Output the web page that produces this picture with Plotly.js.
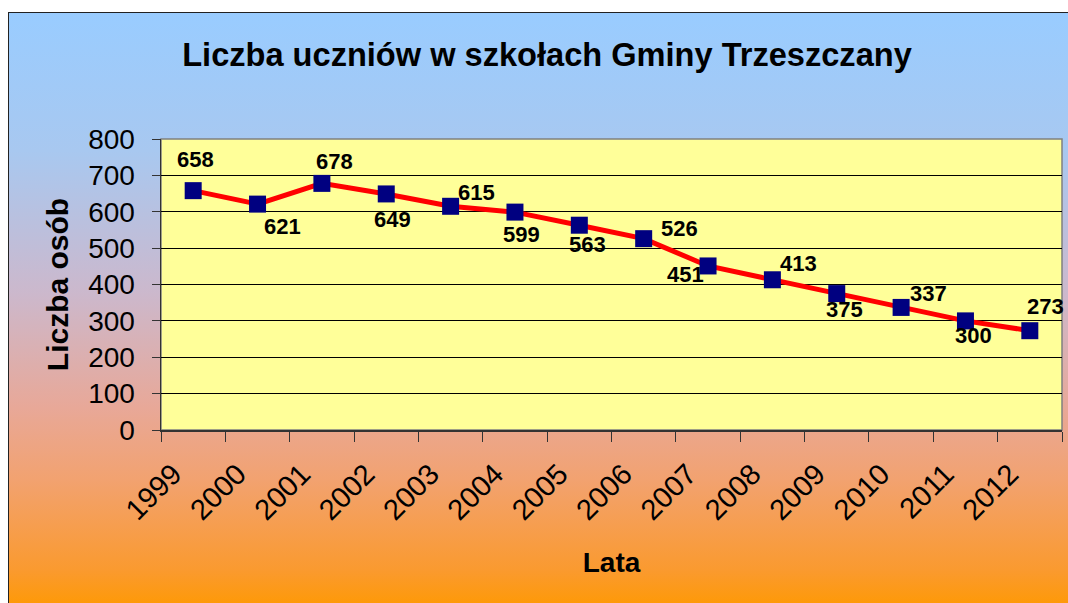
<!DOCTYPE html>
<html>
<head>
<meta charset="utf-8">
<script src="https://cdn.plot.ly/plotly-3.0.1.min.js"></script>
<style>
  html, body { margin: 0; padding: 0; background: #ffffff; width: 1068px; height: 603px; overflow: hidden; }
  #bg {
    position: absolute; left: 8px; top: 12px; width: 1080px; height: 600px;
    border: 1px solid #222; box-sizing: border-box;
    background: linear-gradient(to bottom, #99CCFF 0%, #A8C8F0 23%, #CCB8CC 47%, #E8A898 66%, #F2A270 78%, #FA9A30 93%, #FF9900 100%);
  }
  #chart { position: absolute; left: 0; top: 0; width: 1068px; height: 603px; }
</style>
</head>
<body>
<div id="bg"></div>
<div id="chart"></div>
<script>
const years = ["1999","2000","2001","2002","2003","2004","2005","2006","2007","2008","2009","2010","2011","2012"];
const students = [658, 621, 678, 649, 615, 599, 563, 526, 451, 413, 375, 337, 300, 273];
const yTicks = [0, 100, 200, 300, 400, 500, 600, 700, 800];

// label offsets (pixels) relative to each point — styling only
const labelDx = [2, 25, 13, 6, 26, 7, 8, 36, -23, 26, 8, 27, 8, 16];
const labelDy = [31, -22, 22, -26, 14, -22, -19, 10, -9, 16, -16, 14, -15, 24];

const FONT = 'Liberation Sans, Arial, sans-serif';

const trace = {
  type: 'scatter',
  mode: 'lines+markers',
  x: years,
  y: students,
  line: { color: '#FF0000', width: 5 },
  marker: { symbol: 'square', size: 17, color: '#000080', line: { width: 0 } },
  hoverinfo: 'x+y',
  cliponaxis: false
};

// x given as the category index of each year on the category axis
const annotations = years.map((yr, i) => ({
  x: years.indexOf(yr), y: students[i], xref: 'x', yref: 'y',
  text: '<b>' + students[i] + '</b>', showarrow: false,
  xanchor: 'center', yanchor: 'middle',
  xshift: labelDx[i], yshift: labelDy[i],
  font: { family: FONT, size: 22, color: '#000000' }
}));

const layout = {
  width: 1068, height: 603,
  margin: { l: 161, r: 6, t: 139, b: 173, pad: 0 },
  paper_bgcolor: 'rgba(0,0,0,0)',
  plot_bgcolor: '#FFFF99',
  showlegend: false,
  font: { family: FONT, color: '#000000' },
  title: {
    text: '<b>Liczba uczniów w szkołach Gminy Trzeszczany</b>',
    font: { family: FONT, size: 32.6, color: '#000000' },
    x: 547 / 1068, xref: 'container', xanchor: 'center',
    y: 1 - 55 / 603, yref: 'container', yanchor: 'middle'
  },
  xaxis: {
    type: 'category',
    range: [-0.5, 13.5],
    tickson: 'boundaries',
    ticks: 'outside', ticklen: 10, tickcolor: '#333333', tickwidth: 1,
    tickangle: -45,
    ticklabelstandoff: 14,
    ticklabelshift: -20,
    tickfont: { family: FONT, size: 29, color: '#000000' },
    showline: true, linecolor: '#333333', linewidth: 1.5,
    showgrid: false, zeroline: false,
    title: { text: '<b>Lata</b>', font: { family: FONT, size: 28, color: '#000000' }, standoff: 27 }
  },
  yaxis: {
    range: [0, 800],
    tickvals: yTicks,
    ticks: 'outside', ticklen: 8, tickcolor: '#333333', tickwidth: 1,
    ticklabelstandoff: 11,
    tickfont: { family: FONT, size: 28, color: '#000000' },
    showline: true, linecolor: '#333333', linewidth: 1.5,
    showgrid: true, gridcolor: '#000000', gridwidth: 1,
    zeroline: false,
    title: { text: '<b>Liczba osób</b>', font: { family: FONT, size: 30, color: '#000000' }, standoff: 10 }
  },
  shapes: [{
    type: 'rect', xref: 'paper', yref: 'paper', x0: 0, x1: 1, y0: 0, y1: 1,
    line: { color: '#808080', width: 1.5 }, layer: 'below'
  }],
  annotations: annotations
};

Plotly.newPlot('chart', [trace], layout, { displayModeBar: false, staticPlot: true });
</script>
</body>
</html>
